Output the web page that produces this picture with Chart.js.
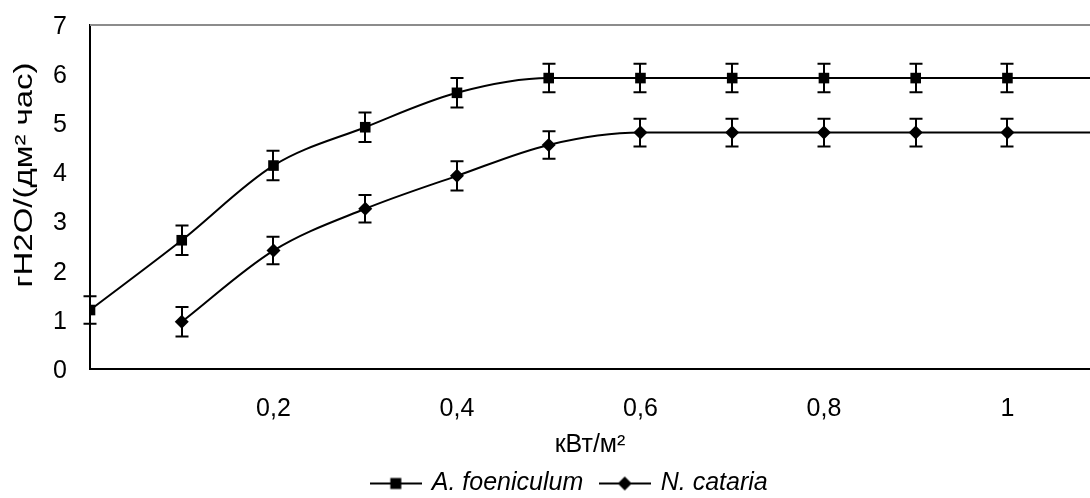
<!DOCTYPE html>
<html>
<head>
<meta charset="utf-8">
<script src="https://cdn.jsdelivr.net/npm/chart.js@4/dist/chart.umd.min.js"></script>
<style>
  html, body { margin: 0; padding: 0; background: #fff; overflow: hidden; }
  #wrap { width: 1090px; height: 498px; }
</style>
</head>
<body>
<div id="wrap"><canvas id="c" width="1090" height="498"></canvas></div>
<script>
// Irradiance, kW/m2
const irradiance = [0, 0.1, 0.2, 0.3, 0.4, 0.5, 0.6, 0.7, 0.8, 0.9, 1.0, 1.1];
// Transpiration rate, g H2O / (dm2 h)
const foeniculum = [1.2, 2.62, 4.14, 4.92, 5.62, 5.92, 5.92, 5.92, 5.92, 5.92, 5.92, 5.92];
const foeniculumErr = [0.28, 0.3, 0.3, 0.3, 0.3, 0.29, 0.29, 0.29, 0.29, 0.29, 0.29, 0.29];
const cataria = [null, 0.96, 2.41, 3.26, 3.93, 4.56, 4.81, 4.81, 4.81, 4.81, 4.81, 4.81];
const catariaErr = [null, 0.3, 0.28, 0.28, 0.3, 0.28, 0.28, 0.28, 0.28, 0.28, 0.28, 0.28];

const seriesNames = ['A. foeniculum', 'N. cataria'];
const xTicks = [0.2, 0.4, 0.6, 0.8, 1.0];
const xTickLabels = ['0,2', '0,4', '0,6', '0,8', '1'];
const yTicks = [0, 1, 2, 3, 4, 5, 6, 7];
const xTitle = 'кВт/м²';
const yTitle = 'гH2O/(дм² час)';
const X_MIN = 0, X_MAX = 1.09, Y_MIN = 0, Y_MAX = 7;

const FONT = '"Liberation Sans", Arial, sans-serif';
const FS = 25;

function pts(values, errs) {
  const out = [];
  irradiance.forEach((x, i) => {
    if (values[i] !== null) out.push({ x: x, y: values[i], err: errs[i] });
  });
  return out;
}

// legend symbol: short line with the series marker in the middle
function legendSymbol(kind) {
  const cv = document.createElement('canvas');
  cv.width = 52; cv.height = 16;
  const g = cv.getContext('2d');
  g.strokeStyle = '#000'; g.lineWidth = 2;
  g.beginPath(); g.moveTo(0, 8); g.lineTo(52, 8); g.stroke();
  g.fillStyle = '#000';
  if (kind === 'rect') {
    g.fillRect(26 - 5.5, 8 - 5.5, 11, 11);
  } else {
    g.beginPath();
    g.moveTo(26, 1); g.lineTo(33, 8); g.lineTo(26, 15); g.lineTo(19, 8); g.closePath(); g.fill();
  }
  return cv;
}
const symbols = [legendSymbol('rect'), legendSymbol('rectRot')];

// vertical error bars with caps
const errorBars = {
  id: 'errorBars',
  afterDatasetsDraw(chart) {
    const { ctx, scales: { x, y } } = chart;
    ctx.save();
    ctx.strokeStyle = '#000';
    ctx.lineWidth = 2;
    chart.data.datasets.forEach((ds) => {
      ds.data.forEach((p) => {
        if (p.err == null) return;
        const px = Math.round(x.getPixelForValue(p.x));
        if (px > chart.chartArea.right + 1) return;
        const yt = y.getPixelForValue(p.y + p.err);
        const yb = y.getPixelForValue(p.y - p.err);
        ctx.beginPath();
        ctx.moveTo(px, yt); ctx.lineTo(px, yb);
        ctx.moveTo(px - 6.5, yt); ctx.lineTo(px + 6.5, yt);
        ctx.moveTo(px - 6.5, yb); ctx.lineTo(px + 6.5, yb);
        ctx.stroke();
      });
    });
    ctx.restore();
  }
};

// grey upper edge of the plot area
const plotFrame = {
  id: 'plotFrame',
  beforeDatasetsDraw(chart) {
    const { ctx, chartArea: a } = chart;
    ctx.save();
    ctx.strokeStyle = '#8c8c8c';
    ctx.lineWidth = 2;
    ctx.beginPath();
    ctx.moveTo(a.left, a.top); ctx.lineTo(a.right, a.top);
    ctx.stroke();
    ctx.restore();
  }
};

// rotated, slightly widened y-axis caption
const yCaption = {
  id: 'yCaption',
  afterDraw(chart) {
    const ctx = chart.ctx;
    ctx.save();
    ctx.translate(25, 175);
    ctx.rotate(-Math.PI / 2);
    ctx.scale(1.32, 1);
    ctx.font = FS + 'px ' + FONT;
    ctx.fillStyle = '#000';
    ctx.textAlign = 'center';
    ctx.textBaseline = 'middle';
    ctx.fillText(yTitle, 0, 0);
    ctx.restore();
  }
};

// nudge the legend row a little to the left of the plot centre
const legendShift = {
  id: 'legendShift',
  afterLayout(chart) {
    if (chart.legend) { chart.legend.left -= 20; chart.legend.right -= 20; }
  }
};

new Chart(document.getElementById('c'), {
  type: 'line',
  data: {
    datasets: [
      {
        label: seriesNames[0],
        data: pts(foeniculum, foeniculumErr),
        borderColor: '#000', backgroundColor: '#000', borderWidth: 2,
        pointStyle: 'rect', pointRadius: 7.5, pointBorderWidth: 0,
        cubicInterpolationMode: 'monotone'
      },
      {
        label: seriesNames[1],
        data: pts(cataria, catariaErr),
        borderColor: '#000', backgroundColor: '#000', borderWidth: 2,
        pointStyle: 'rectRot', pointRadius: 7, pointBorderWidth: 0,
        cubicInterpolationMode: 'monotone'
      }
    ]
  },
  options: {
    responsive: false,
    animation: false,
    devicePixelRatio: 1,
    layout: { autoPadding: false, padding: { top: 25, left: 0, right: 0, bottom: -8 } },
    plugins: {
      tooltip: { enabled: false },
      legend: {
        position: 'bottom',
        fullSize: false,
        labels: {
          usePointStyle: true,
          pointStyleWidth: 47,
          padding: 18,
          color: '#000',
          font: { family: FONT, size: FS, style: 'italic' },
          generateLabels(chart) {
            return chart.data.datasets.map((ds, i) => ({
              text: ds.label,
              pointStyle: symbols[i],
              fillStyle: '#000', strokeStyle: '#000', lineWidth: 0,
              fontColor: '#000',
              datasetIndex: i, hidden: false
            }));
          }
        }
      }
    },
    scales: {
      x: {
        type: 'linear',
        min: X_MIN, max: X_MAX,
        afterBuildTicks(s) { s.ticks = xTicks.map(v => ({ value: v })); },
        afterFit(s) { s.height = 84; s.paddingLeft = 0; s.paddingRight = 0; },
        grid: { display: false, drawTicks: false },
        border: { display: true, color: '#000', width: 2 },
        ticks: {
          padding: 25,
          color: '#000',
          font: { family: FONT, size: FS },
          maxRotation: 0,
          callback(v) { const i = xTicks.indexOf(v); return i >= 0 ? xTickLabels[i] : ''; }
        },
        title: {
          display: true,
          text: xTitle,
          color: '#000',
          font: { family: FONT, size: FS, lineHeight: 1 },
          padding: { top: 0, bottom: -5 }
        }
      },
      y: {
        type: 'linear',
        min: Y_MIN, max: Y_MAX,
        afterBuildTicks(s) { s.ticks = yTicks.map(v => ({ value: v })); },
        afterFit(s) { s.width = 90; s.paddingTop = 0; s.paddingBottom = 0; },
        grid: { display: false, drawTicks: false },
        border: { display: true, color: '#000', width: 2 },
        ticks: {
          padding: 23,
          labelOffset: 2,
          color: '#000',
          font: { family: FONT, size: FS }
        },
        title: { display: false }
      }
    }
  },
  plugins: [plotFrame, errorBars, yCaption, legendShift]
});
</script>
</body>
</html>
